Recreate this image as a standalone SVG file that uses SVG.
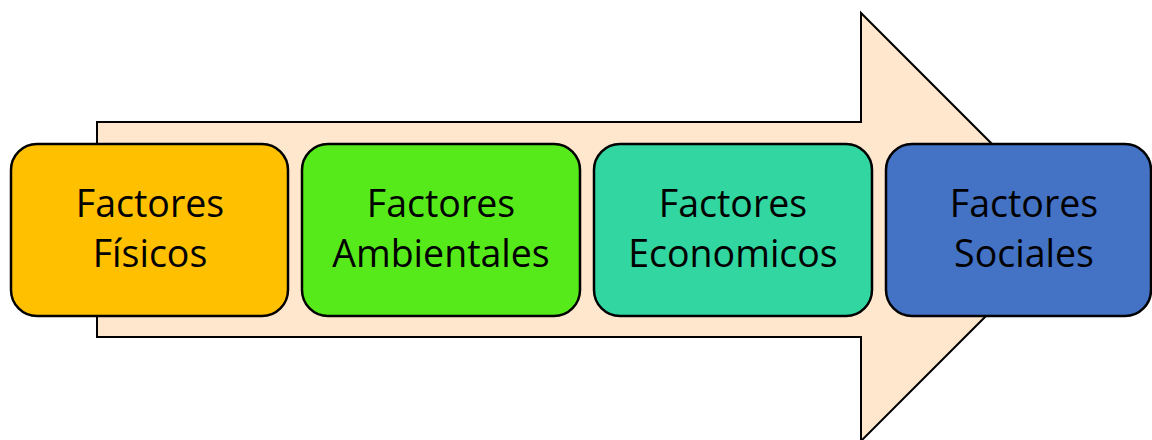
<svg xmlns="http://www.w3.org/2000/svg" width="1152" height="440" viewBox="0 0 1152 440">
<style>
.box{stroke:#000;stroke-width:2.5}
.t{font-family:"Open Sans","Liberation Sans",Arial,sans-serif;font-size:37.5px;fill:#000;text-anchor:middle}
</style>
<rect width="1152" height="440" fill="#fff"/>
<g id="arrow">
<polygon points="97,122 861,122 861,13 1075,227 861,441 861,337 97,337" fill="#FFE7CE" stroke="#000" stroke-width="2"/>
</g>
<g id="connectors"></g>
<g id="n1">
<rect class="box" x="11" y="144" width="277" height="172" rx="26" fill="#FFC000"/>
<text class="t" x="150" y="217">Factores</text>
<text class="t" x="150" y="267">Físicos</text>
</g>
<g id="n2">
<rect class="box" x="302" y="144" width="278" height="172" rx="26" fill="#56EA1B"/>
<text class="t" x="441" y="217">Factores</text>
<text class="t" x="441" y="267">Ambientales</text>
</g>
<g id="n3">
<rect class="box" x="594" y="144" width="278" height="172" rx="26" fill="#31D6A1"/>
<text class="t" x="733" y="217">Factores</text>
<text class="t" x="733" y="267">Economicos</text>
</g>
<g id="n4">
<rect class="box" x="886" y="144" width="265" height="172" rx="26" fill="#4472C4"/>
<text class="t" x="1024" y="217">Factores</text>
<text class="t" x="1024" y="267">Sociales</text>
</g>
</svg>
